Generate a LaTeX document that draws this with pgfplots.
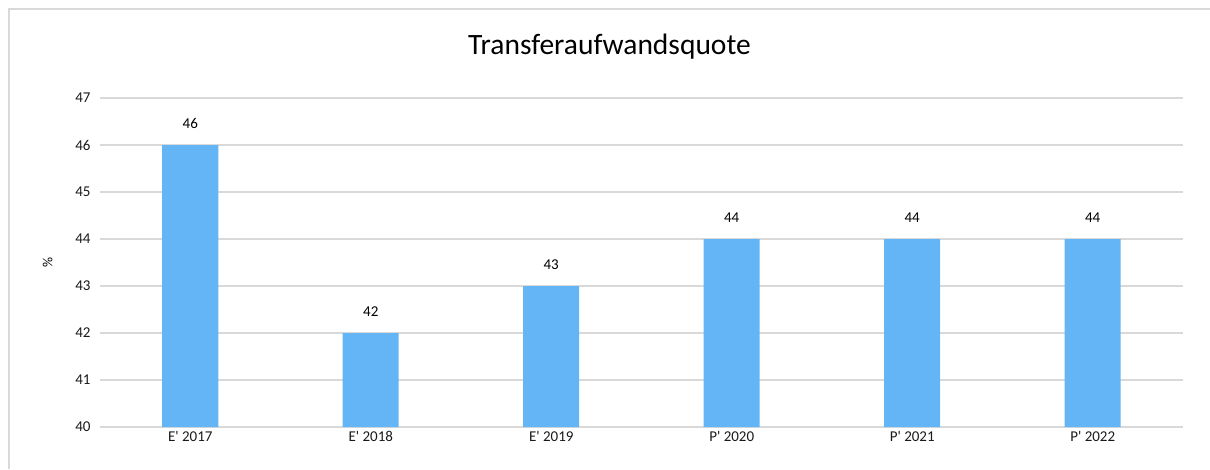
\documentclass[border=0pt]{standalone}
\usepackage{pgfplots}
\pgfplotsset{compat=1.18}
\usepackage{fontspec}
\setmainfont{Carlito}
\definecolor{barblue}{HTML}{63B5F6}
\definecolor{gridgray}{HTML}{D9D9D9}
\begin{document}
\begin{tikzpicture}[x=1pt,y=1pt]
\useasboundingbox (0,0) rectangle (1210,469);
\draw[gridgray,line width=2pt] (9,0) -- (9,460) -- (1210,460);
\begin{axis}[
  at={(100pt,42pt)}, anchor=south west,
  scale only axis, width=1083pt, height=329pt,
  ymin=40, ymax=47, ytick={40,...,47},
  xmin=-0.5, xmax=5.5,
  xtick=data,
  xticklabels={E\textquotesingle{} 2017,E\textquotesingle{} 2018,E\textquotesingle{} 2019,P\textquotesingle{} 2020,P\textquotesingle{} 2021,P\textquotesingle{} 2022},
  ymajorgrids, grid style={gridgray,line width=1.5pt},
  axis line style={draw=none},
  major tick length=0pt,
  tick label style={font=\fontsize{15}{18}\selectfont, text=black!90},
  /pgf/number format/assume math mode=true,
  yticklabel style={xshift=-6pt},
  xticklabel style={yshift=-1pt},
  ylabel={\%}, ylabel style={font=\fontsize{14}{16}\selectfont, at={(axis description cs:0,0.5)}, anchor=south, yshift=44pt},
  title={Transferaufwandsquote},
  title style={font=\fontsize{29.5}{34}\selectfont, at={(axis description cs:0.5,1)}, anchor=center, yshift=45pt, xshift=-32pt},
  ybar, bar width=56pt,
  nodes near coords,
  every node near coord/.append style={font=\fontsize{15}{18}\selectfont, text=black, yshift=13pt},
]
\addplot[fill=barblue, draw=none] coordinates {(0,46) (1,42) (2,43) (3,44) (4,44) (5,44)};
\end{axis}
\end{tikzpicture}
\end{document}
